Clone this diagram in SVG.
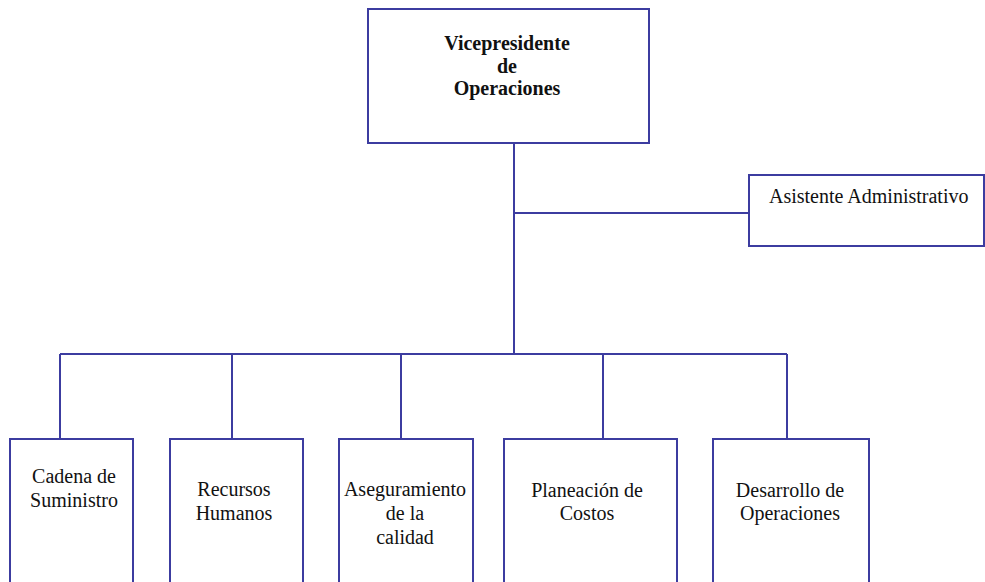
<svg xmlns="http://www.w3.org/2000/svg" width="985" height="582" viewBox="0 0 985 582">
  <style>
    .box { fill: #ffffff; stroke: #3c3ca0; stroke-width: 2; }
    .link { fill: none; stroke: #3c3ca0; stroke-width: 2; }
    text { font-family: "Liberation Serif", "Times New Roman", serif; font-size: 20px; fill: #111111; }
    .c { text-anchor: middle; }
    .b { font-weight: bold; }
  </style>
  <rect width="985" height="582" fill="#ffffff"/>

  <g id="connectors">
    <path class="link" d="M514,143 V354"/>
    <path class="link" d="M514,213 H749"/>
    <path class="link" d="M60,354 H787"/>
    <path class="link" d="M60,354 V439"/>
    <path class="link" d="M232,354 V439"/>
    <path class="link" d="M401,354 V439"/>
    <path class="link" d="M603,354 V439"/>
    <path class="link" d="M787,354 V439"/>
  </g>

  <g id="vicepresidente">
    <rect class="box" x="368" y="9" width="281" height="134"/>
    <text class="c b" x="507" y="50">Vicepresidente</text>
    <text class="c b" x="507" y="73">de</text>
    <text class="c b" x="507" y="95">Operaciones</text>
  </g>

  <g id="asistente">
    <rect class="box" x="749" y="175" width="235" height="71"/>
    <text x="769" y="203">Asistente Administrativo</text>
  </g>

  <g id="cadena">
    <rect class="box" x="10" y="439" width="123" height="170"/>
    <text class="c" x="74" y="483">Cadena de</text>
    <text class="c" x="74" y="507">Suministro</text>
  </g>

  <g id="recursos">
    <rect class="box" x="170" y="439" width="133" height="170"/>
    <text class="c" x="234" y="496">Recursos</text>
    <text class="c" x="234" y="520">Humanos</text>
  </g>

  <g id="calidad">
    <rect class="box" x="339" y="439" width="134" height="170"/>
    <text class="c" x="405" y="496">Aseguramiento</text>
    <text class="c" x="405" y="520">de la</text>
    <text class="c" x="405" y="544">calidad</text>
  </g>

  <g id="costos">
    <rect class="box" x="504" y="439" width="173" height="170"/>
    <text class="c" x="587" y="497">Planeación de</text>
    <text class="c" x="587" y="520">Costos</text>
  </g>

  <g id="desarrollo">
    <rect class="box" x="713" y="439" width="156" height="170"/>
    <text class="c" x="790" y="497">Desarrollo de</text>
    <text class="c" x="790" y="520">Operaciones</text>
  </g>
</svg>
